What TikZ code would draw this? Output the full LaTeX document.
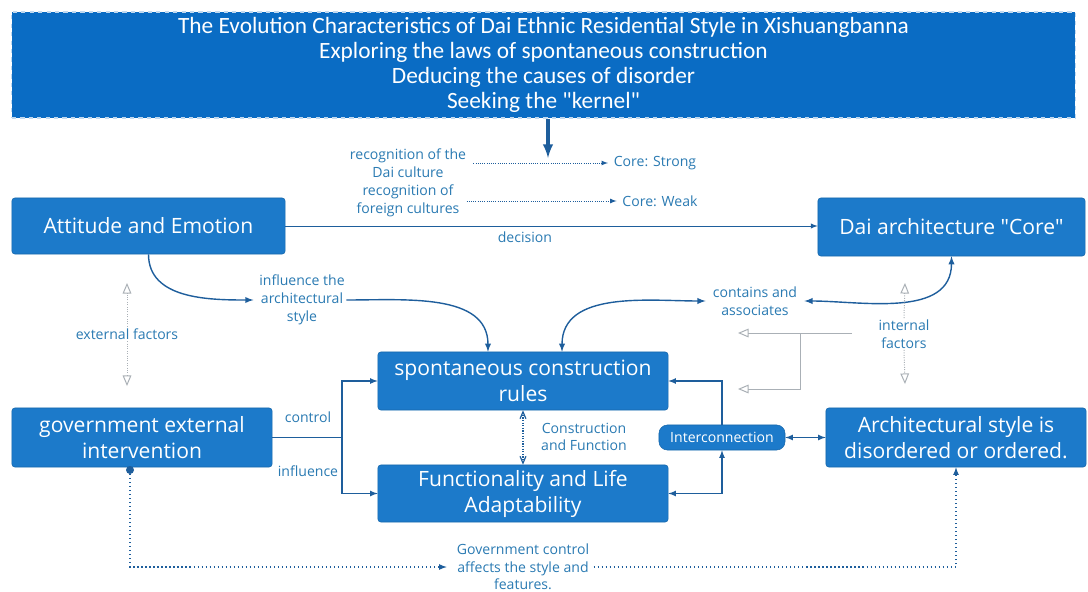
\documentclass[tikz,border=0pt]{standalone}
\usepackage{fontspec}
\setmainfont{Open Sans}
\newfontfamily\titlefont{Carlito}
\usetikzlibrary{positioning}
\usetikzlibrary{arrows}
\definecolor{boxblue}{RGB}{28, 122, 202}
\definecolor{titleblue}{RGB}{10, 108, 196}
\definecolor{linkblue}{RGB}{30, 94, 156}
\definecolor{labelblue}{RGB}{42, 122, 178}
\definecolor{hintgrey}{RGB}{170, 176, 182}

\begin{document}
\begin{tikzpicture}[x=0.025cm, y=-0.025cm]
    \tikzstyle{bigbox}=[rectangle, rounded corners=2pt, fill=boxblue, draw=boxblue!85!black,
    text=white, align=center, inner sep=0pt, font=\fontsize{15}{18.5}\selectfont]
    \tikzstyle{lbl}=[align=center, text=labelblue, inner sep=1pt, font=\fontsize{10}{12.6}\selectfont]
    \tikzstyle{link}=[line width=0.35mm, color=linkblue]
    \tikzstyle{hint}=[line width=0.25mm, color=hintgrey, densely dotted]

    % Page frame
    \useasboundingbox (0, 0) rectangle (1088, 592);

    % Title block
    \node [bigbox, fill=titleblue, draw=white!75!titleblue, dashed, thick, rounded corners=0pt,
      minimum width=26.575cm, minimum height=2.65cm,
      font=\titlefont\fontsize{16.6}{17.6}\selectfont] (title) at (543.5, 65)
      {The Evolution Characteristics of Dai Ethnic Residential Style in Xishuangbanna\\
       Exploring the laws of spontaneous construction\\
       Deducing the causes of disorder\\
       Seeking the \textquotedbl kernel\textquotedbl};
    % Drop from the title
    \coordinate (drop) at (548, 158);
    \draw [line width=0.8mm, color=linkblue, arrows={-latex}] (title.south -| drop) -- (drop);

    % Main boxes
    \node [bigbox, minimum width=6.825cm, minimum height=1.4cm] (attitude) at (148.5, 226) {Attitude and Emotion};
    \node [bigbox, minimum width=6.675cm, minimum height=1.45cm] (core) at (951.5, 227) {Dai architecture \textquotedbl Core\textquotedbl};
    \node [bigbox, minimum width=7.25cm, minimum height=1.45cm] (spont) at (523, 381) {spontaneous construction\\rules};
    \node [bigbox, minimum width=7.25cm, minimum height=1.425cm] (func) at (523, 493.5) {Functionality and Life\\Adaptability};
    \node [bigbox, minimum width=6.5cm, minimum height=1.475cm] (gov) at (142, 437.5) {government external\\intervention};
    \node [bigbox, minimum width=6.5cm, minimum height=1.475cm] (arch) at (956, 437.5) {Architectural style is\\disordered or ordered.};
    \node [bigbox, rounded corners=6pt, minimum width=3.15cm, minimum height=0.625cm,
      font=\fontsize{10}{12}\selectfont] (inter) at (722, 437.5) {Interconnection};

    % Recognition of cultures
    \node [lbl] (recdai) at (408, 163) {recognition of the\\Dai culture};
    \node [lbl] (strong) at (655, 163) {Core: Strong};
    \draw [link, line width=0.2mm, densely dotted, arrows={-latex}, shorten <=4pt, shorten >=3pt] (recdai.east) -- (strong.west);
    \node [lbl] (recfor) at (408, 201) {recognition of\\foreign cultures};
    \node [lbl] (weak) at (660, 201) {Core: Weak};
    \draw [link, line width=0.2mm, densely dotted, arrows={-latex}, shorten <=4pt, shorten >=3pt] (recfor.east) -- (weak.west);

    % Decision
    \draw [link, line width=0.25mm, arrows={-latex}] (attitude.east) -- (attitude.east -| core.west)
      node [lbl, pos=0.45, below=3pt] (decision) {decision};

    % Influence on the style
    \node [lbl] (infl) at (302, 300) {influence the\\architectural\\style};
    \draw [link, arrows={-latex}] (attitude.south) to[out=-90, in=180] ([xshift=-3pt]infl.west);
    \draw [link, arrows={-latex}] (infl.east) to[out=0, in=90] ([xshift=-0.875cm]spont.north);

    % Contains and associates
    \node [lbl] (contains) at (755, 301) {contains and\\associates};
    \draw [link, arrows={latex-latex}, shorten >=4pt] ([xshift=0.975cm]spont.north) to[out=90, in=180] (contains.west);
    \draw [link, arrows={latex-latex}, shorten <=4pt] (contains.east) to[out=0, in=-90] (core.south);

    % Internal factors
    \node [lbl] (internal) at (904, 334) {internal\\factors};
    \coordinate (intup) at (905, 283);
    \coordinate (intdown) at (905, 384);
    \draw [hint, arrows={-open triangle 45}] (internal.north) -- (intup);
    \draw [hint, arrows={-open triangle 45}] (internal.south) -- (intdown);
    \coordinate (hinta) at (852, 333);
    \coordinate (hintb) at (738, 333);
    \coordinate (hintk) at (800, 333);
    \coordinate (hintc) at (738, 389);
    \draw [hint, solid, arrows={-open triangle 45}] (hinta) -- (hintb);
    \draw [hint, solid, arrows={-open triangle 45}] (hintk) |- (hintc);

    % External factors
    \node [lbl] (external) at (127, 334) {external factors};
    \coordinate (extup) at (127, 283);
    \coordinate (extdown) at (127, 386);
    \draw [hint, arrows={-open triangle 45}] (external.north) -- (extup);
    \draw [hint, arrows={-open triangle 45}] (external.south) -- (extdown);

    % Control and influence
    \coordinate (split) at (342, 437.5);
    \draw [link, line width=0.3mm] (gov.east) -- (split);
    \draw [link, line width=0.3mm, arrows={-latex}] (split) |- (spont.west);
    \draw [link, line width=0.3mm, arrows={-latex}] (split) |- (func.west);
    \node [lbl] (ctrl) at (308, 417) {control};
    \node [lbl] (inflgov) at (308, 471) {influence};

    % Construction and function
    \draw [link, line width=0.3mm, densely dotted, arrows={angle 45-angle 45}] (spont.south) -- (func.north);
    \node [lbl] (confun) at (584, 437) {Construction\\and Function};

    % Interconnection
    \draw [link, line width=0.3mm, arrows={-latex}] (inter.north) |- (spont.east);
    \draw [link, line width=0.3mm, arrows={latex-latex}] (inter.south) |- (func.east);
    \draw [link, line width=0.3mm, arrows={latex-latex}] (inter.east) -- (arch.west);

    % Government control
    \node [lbl] (govctrl) at (523, 567) {Government control\\affects the style and\\features.};
    \coordinate (govfoot) at (130, 470);
    \fill [linkblue] (govfoot) circle (4);
    \draw [link, line width=0.3mm, dotted, arrows={-latex}, shorten >=6pt] (govfoot) |- (govctrl.west);
    \draw [link, line width=0.3mm, dotted, arrows={-latex}, shorten <=2pt] (govctrl.east) -| (arch.south);

\end{tikzpicture}
\end{document}
